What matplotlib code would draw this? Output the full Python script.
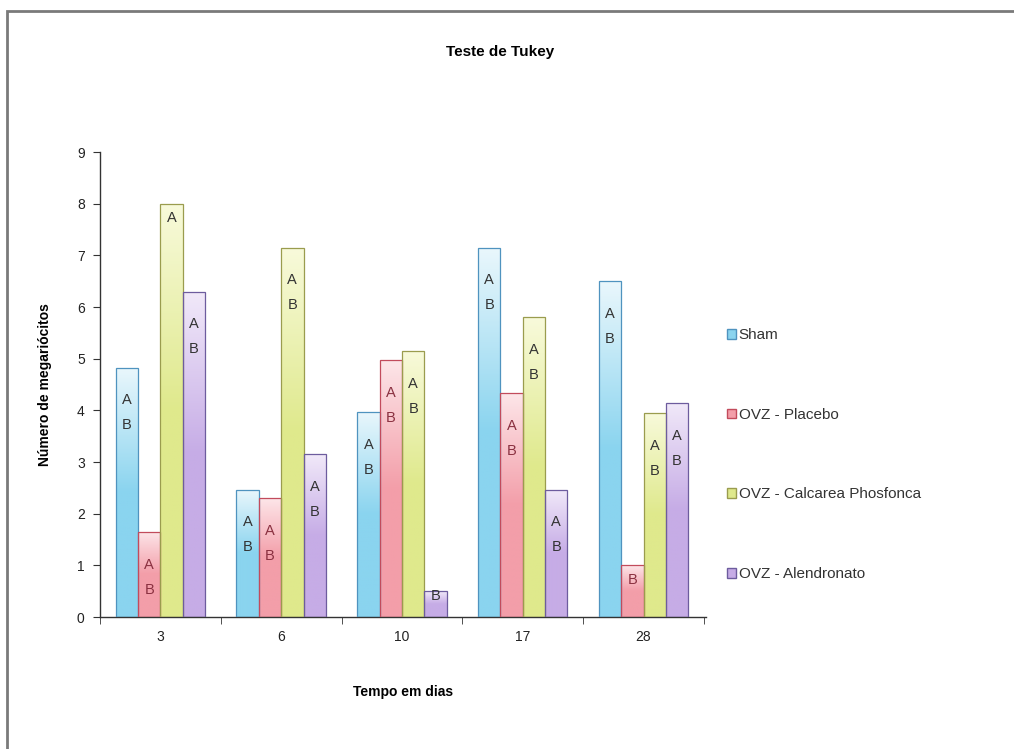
import numpy as np
import matplotlib
matplotlib.use("Agg")
import matplotlib.pyplot as plt
from matplotlib.colors import LinearSegmentedColormap
from matplotlib.patches import Rectangle, Patch

categories = ["3", "6", "10", "17", "28"]
series_names = ["Sham", "OVZ - Placebo", "OVZ - Calcarea Phosfonca", "OVZ - Alendronato"]
sham = [4.83, 2.47, 3.97, 7.15, 6.5]
placebo = [1.65, 2.3, 4.97, 4.33, 1.0]
calcarea = [8.0, 7.15, 5.15, 5.8, 3.95]
alendronato = [6.3, 3.15, 0.5, 2.47, 4.15]
values = [sham, placebo, calcarea, alendronato]

sham_labels = ["A\nB", "A\nB", "A\nB", "A\nB", "A\nB"]
placebo_labels = ["A\nB", "A\nB", "A\nB", "A\nB", "B"]
calcarea_labels = ["A", "A\nB", "A\nB", "A\nB", "A\nB"]
alendronato_labels = ["A\nB", "A\nB", "B", "A\nB", "A\nB"]
labels = [sham_labels, placebo_labels, calcarea_labels, alendronato_labels]

bottom_cols = ["#8ad4ef", "#f39ea9", "#dfe98c", "#c6ace6"]
top_cols = ["#eaf7fc", "#fde6e9", "#f8fadb", "#f1e9f9"]
edge_cols = ["#4f93bf", "#c24b5c", "#9a9c4e", "#6d5c9e"]
text_cols = ["#333333", "#8a3040", "#333333", "#333333"]

fig = plt.figure(figsize=(10.14, 7.49), dpi=100)
# outer chart frame
fig.patches.append(Rectangle((0.007, -0.1), 1.1, 1.085, transform=fig.transFigure,
                             fill=False, edgecolor="#7a7a7a", linewidth=2.0))
ax = fig.add_axes([0.0986, 0.176, 0.598, 0.621])

x = np.arange(len(categories))
w = 0.185
for i, (vals, labs) in enumerate(zip(values, labels)):
    cmap = LinearSegmentedColormap.from_list(f"g{i}", [bottom_cols[i], bottom_cols[i], top_cols[i]])
    pos = x + (i - 1.5) * w
    bars = ax.bar(pos, vals, width=w, color="none", edgecolor=edge_cols[i], linewidth=0.9,
                  label=series_names[i], zorder=3)
    for b, v, lab in zip(bars, vals, labs):
        grad = np.linspace(0, 1, 256).reshape(-1, 1)
        im = ax.imshow(grad, cmap=cmap, origin="lower", aspect="auto",
                       extent=[b.get_x(), b.get_x() + w, 0, v], zorder=2)
        im.set_clip_path(b)
        ty = v - 0.15 if lab != "A\nB" else v - 0.5
        if v < 0.8:
            ty = v + 0.05
        ax.text(b.get_x() + w / 2, ty, lab, ha="center", va="top", fontsize=10.5,
                color=text_cols[i], linespacing=2.0, zorder=4,
                family="Liberation Sans")

ax.set_xlim(-0.5, len(categories) - 0.5 + 0.02)
ax.set_ylim(0, 9)
ax.set_yticks(range(0, 10))
ax.set_xticks(x)
ax.set_xticklabels(categories)
ax.set_xticks(np.arange(-0.5, len(categories)), minor=True)
ax.tick_params(axis="x", which="major", length=0, pad=9, labelsize=10)
ax.tick_params(axis="x", which="minor", length=5, direction="out", color="#333333")
ax.tick_params(axis="y", length=5, direction="out", labelsize=10, pad=6, color="#333333")
for lab in ax.get_xticklabels() + ax.get_yticklabels():
    lab.set_family("Liberation Sans")
    lab.set_color("#222222")
for s in ["top", "right"]:
    ax.spines[s].set_visible(False)
for s in ["left", "bottom"]:
    ax.spines[s].set_color("#333333")
    ax.spines[s].set_linewidth(1.0)

ax.set_ylabel("Número de megariócitos", fontsize=10, fontweight="bold",
              family="Liberation Sans", labelpad=18)
ax.set_xlabel("Tempo em dias", fontsize=10, fontweight="bold",
              family="Liberation Sans", labelpad=30)
fig.text(0.493, 0.930, "Teste de Tukey", ha="center", va="center", fontsize=11,
         fontweight="bold", family="Liberation Sans")

lh = [Patch(facecolor=bottom_cols[i], edgecolor=edge_cols[i]) for i in range(4)]
leg = fig.legend(lh, series_names, loc="center left", bbox_to_anchor=(0.703, 0.393),
                 frameon=False, labelspacing=4.3, handlelength=0.6,
                 handleheight=0.6, handletextpad=0.2, prop={"family": "Liberation Sans", "size": 11})
for t in leg.get_texts():
    t.set_color("#333333")

fig.savefig("out.png", dpi=100)
